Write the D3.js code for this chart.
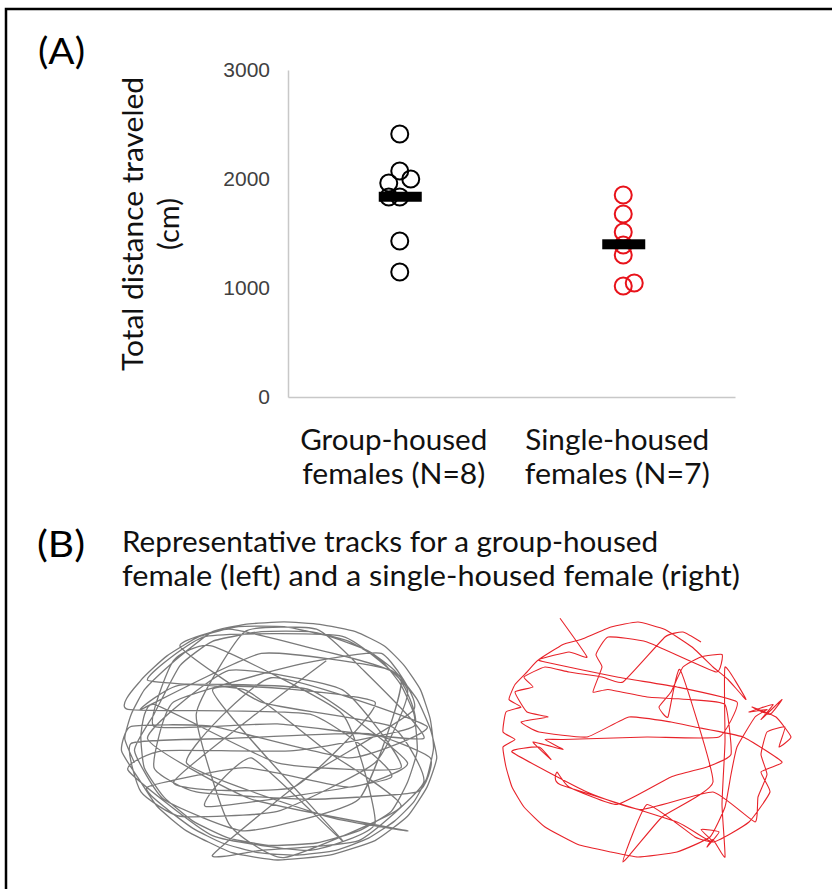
<!DOCTYPE html>
<html>
<head>
<meta charset="utf-8">
<script src="https://cdn.jsdelivr.net/npm/d3@7"></script>
<style>
body{margin:0;background:#fff;}
svg{display:block;}
</style>
</head>
<body>
<svg></svg>
<script>
// values
var groupNames = ["group","single"]
var groupLabels = [["Group-housed","females (N=8)"],["Single-housed","females (N=7)"]]
var groupHoused = [2413,2073,2000,1963,1835,1835,1431,1147]
var groupJitter = [0,0,1,-1,-1,0,0,0]
var singleHoused = [1853,1679,1514,1394,1303,1018,1046]
var singleJitter = [0,0,0,0,0,0,1]
var yTicks = [0,1000,2000,3000]

// tracks, arena units 0-100
var grayTrack = [
[6,60],[3,50],[5,40],[9,30],[15,22],[22,14],[30,6],[40,3],[52,2],[63,3],[74,6],[83,12],[89,20],[94,30],[97,42],[98,54],[96,66],[92,76],[86,84],[78,91],[68,96],[56,98],[44,97],[33,93],[24,87],[16,79],[10,70],
[40,62],[72,70],[90,60],[60,30],[20,28],[8,38],[45,15],[85,22],[92,45],[55,55],[15,55],[4,63],
[30,90],[60,96],[80,85],[70,40],[30,12],[18,18],[12,45],[50,44],[95,50],[75,20],[62,5],[40,6],
[25,40],[35,85],[52,99],[88,78],[65,55],[40,30],[10,26],[28,8],[70,8],[90,30],[80,60],[50,80],
[20,82],[8,72],[5,52],[35,50],[78,48],[97,58],[93,72],[60,75],[25,72],[12,62],[18,35],[55,20],
[82,15],[92,38],[60,65],[30,98],[45,96],[75,92],[95,68],[85,45],[45,35],[20,12],[35,5],[58,12],
[88,25],[75,75],[40,88],[15,75],[6,55],[12,40],
[20,20],[30,10],[45,6],[60,6],[72,10],[82,18],[88,28],[92,40],[93,55],[90,68],[85,80],[75,88],[62,93],[48,94],[35,91],[24,84],[15,74],[9,62],[8,48],[12,36],
[50,60],[88,62],[70,30],[35,22],[10,50],[42,75],[90,88],[65,82],[22,60],[48,25],[96,45],[72,58],[30,45],[5,45],
[2,55],[7,66],[13,78],[22,88],[36,97],[50,100],[66,98],[80,92],[90,82],[96,70],[99,58],[97,46],[93,34],[86,22],[78,14],[66,8],[52,4],[38,4],[26,8],[16,16],[8,26],[4,38],
[60,40],[85,66],[28,78],[42,58],[70,92],[30,30],[80,35],[55,70],[18,68],[65,18]
]
var redTrack = [
[21,0.5],[30,16],[24,14],[14,17],[10,22],[6,27],[4,33],[8,36],[3,38],[2,46],[6,49],[2,52],[3,60],[5,68],[9,76],[16,84],[27,91],[38,94],[47,96],[60,94],[71,88],[76,76],[78,63],[80,52],
[86,40],[90,37],[84,38],[92,35],[88,41],[95,33],[91,39],[85,36],[93,40],[98,48],[94,52],[96,44],[90,46],[88,55],[90,63],[87,72],[86,82],
[72,70],[48,77],[30,70],[5,54],[14,52],[18,57],[12,50],[22,53],[16,49],
[22,49],[50,48],[74,48],[80,34],[60,28],[40,24],[16,18],
[14,17],[22,11],[28,9],[38,4],[47,2],[56,5],[65,12],[72,20],[77,25],[83,33],
[76,20],[76,50],[75,75],[76,96],[72,89],[70,92],[74,86],[68,85],[72,90],[66,88],
[50,75],[42,98],[55,80],[72,66],[61,21],[57,40],[54,36],[58,30],[62,20],[68,16],[75,15],[73,22],
[50,10],[37,8],[33,15],[35,20],[32,30],[37,29],[50,32],[64,33],[76,35],
[78,55],[70,60],[58,64],[40,75],[24,68],[20,62],[21,67],[60,82],[72,90],[84,82],[91,70],[88,62],[95,58],
[82,48],[66,44],[58,42],[44,40],[30,48],[14,46],[8,42],[17,40],[10,38],
[6,30],[12,28],[9,24],[16,20],[24,22],[35,24],[42,26],[56,8],[62,6],[68,10]
]

var screen = {width:832,height:889}
var svg = d3.select("svg")
    .attr("width",screen.width)
    .attr("height",screen.height)

var calibri = "Lato, 'Open Sans', sans-serif"
var narrow = "'Liberation Sans Narrow', 'Arial Narrow', Lato, sans-serif"

// frame
svg.append("path")
    .attr("d","M6,889V9H832")
    .attr("fill","none")
    .attr("stroke","#000")
    .attr("stroke-width",2.5)

// ----- panel A -----
var yScale = d3.scaleLinear()
    .domain([0,3000])
    .range([397,70])

var xScale = d3.scalePoint()
    .domain(groupNames)
    .range([288,735])
    .padding(0.5)

var yAxis = svg.append("g")
    .attr("transform","translate(288,0)")
    .call(d3.axisLeft(yScale).tickValues(yTicks).tickSize(0).tickPadding(18).tickFormat(d3.format("d")))
yAxis.select(".domain").attr("stroke","#c8c8c8").attr("stroke-width",1.5)
yAxis.selectAll("text")
    .attr("font-family","'Liberation Sans', Arial, sans-serif")
    .attr("font-size",21)
    .attr("fill","#404040")

var xAxis = svg.append("g")
    .attr("transform","translate(0,397)")
    .call(d3.axisBottom(xScale).tickSize(0).tickFormat(""))
xAxis.select(".domain").attr("stroke","#c8c8c8").attr("stroke-width",1.5)

var catWidths = [[187,183],[184,185]]
var catLabels = svg.append("g").selectAll("text")
    .data(groupNames)
    .enter()
    .append("text")
    .attr("font-family",calibri)
    .attr("font-size",29)
    .attr("fill","#111")
    .attr("text-anchor","middle")
catLabels.append("tspan")
    .attr("x",function(d){ return xScale(d)-6 })
    .attr("y",450)
    .attr("textLength",function(d,i){ return catWidths[i][0] })
    .attr("lengthAdjust","spacingAndGlyphs")
    .text(function(d,i){ return groupLabels[i][0] })
catLabels.append("tspan")
    .attr("x",function(d){ return xScale(d)-6 })
    .attr("y",484)
    .attr("textLength",function(d,i){ return catWidths[i][1] })
    .attr("lengthAdjust","spacingAndGlyphs")
    .text(function(d,i){ return groupLabels[i][1] })

// y title
var yTitle = svg.append("text")
    .attr("transform","translate(143,224) rotate(-90)")
    .attr("font-family",calibri)
    .attr("font-size",29)
    .attr("fill","#111")
    .attr("text-anchor","middle")
yTitle.append("tspan").attr("x",0).attr("y",0)
    .attr("textLength",294).attr("lengthAdjust","spacingAndGlyphs")
    .text("Total distance traveled")
yTitle.append("tspan").attr("x",0).attr("y",36).text("(cm)")

var jitterStep = 11
var series = [
    {name:"group",values:groupHoused,jitter:groupJitter,color:"#000"},
    {name:"single",values:singleHoused,jitter:singleJitter,color:"#e8121a"}
]

series.forEach(function(s)
{
    svg.append("g").selectAll("circle")
    .data(s.values)
    .enter()
    .append("circle")
    .attr("cx",function(d,i){ return xScale(s.name)+s.jitter[i]*jitterStep })
    .attr("cy",function(d){ return yScale(d) })
    .attr("r",8.5)
    .attr("fill","none")
    .attr("stroke",s.color)
    .attr("stroke-width",2)
})

series.forEach(function(s)
{
    var m = d3.mean(s.values)
    svg.append("rect")
    .attr("x",xScale(s.name)-21)
    .attr("y",yScale(m)-5)
    .attr("width",43)
    .attr("height",10)
    .attr("fill","#000")
})

svg.append("text")
    .attr("x",38)
    .attr("y",64)
    .attr("font-family",narrow)
    .attr("font-size",36)
    .attr("textLength",47)
    .attr("lengthAdjust","spacingAndGlyphs")
    .text("(A)")

// ----- panel B -----
svg.append("text")
    .attr("x",37)
    .attr("y",557)
    .attr("font-family",narrow)
    .attr("font-size",36)
    .attr("textLength",48)
    .attr("lengthAdjust","spacingAndGlyphs")
    .text("(B)")

var bTitle = [
    {text:"Representative tracks for a group-housed",y:552,w:536},
    {text:"female (left) and a single-housed female (right)",y:586,w:618}
]
svg.append("g").selectAll("text")
    .data(bTitle)
    .enter()
    .append("text")
    .attr("x",122)
    .attr("y",function(d){ return d.y })
    .attr("font-family",calibri)
    .attr("font-size",29)
    .attr("fill","#111")
    .attr("textLength",function(d){ return d.w })
    .attr("lengthAdjust","spacingAndGlyphs")
    .text(function(d){ return d.text })

var drawTrack = function(points,xs,ys,color,width,curve)
{
    var line = d3.line()
        .x(function(d){ return xs(d[0]) })
        .y(function(d){ return ys(d[1]) })
        .curve(curve)
    svg.append("path")
    .datum(points)
    .attr("d",line)
    .attr("fill","none")
    .attr("stroke",color)
    .attr("stroke-width",width)
    .attr("stroke-linejoin","round")
}

var grayX = d3.scaleLinear().domain([0,100]).range([115,440])
var grayY = d3.scaleLinear().domain([0,100]).range([617,860])
var redX = d3.scaleLinear().domain([0,100]).range([497,797])
var redY = d3.scaleLinear().domain([0,100]).range([617,867])

drawTrack(grayTrack,grayX,grayY,"#7a7a7a",1.3,d3.curveCardinal.tension(0.55))
drawTrack(redTrack,redX,redY,"#e8232a",1.1,d3.curveCardinal.tension(0.6))
</script>
</body>
</html>
